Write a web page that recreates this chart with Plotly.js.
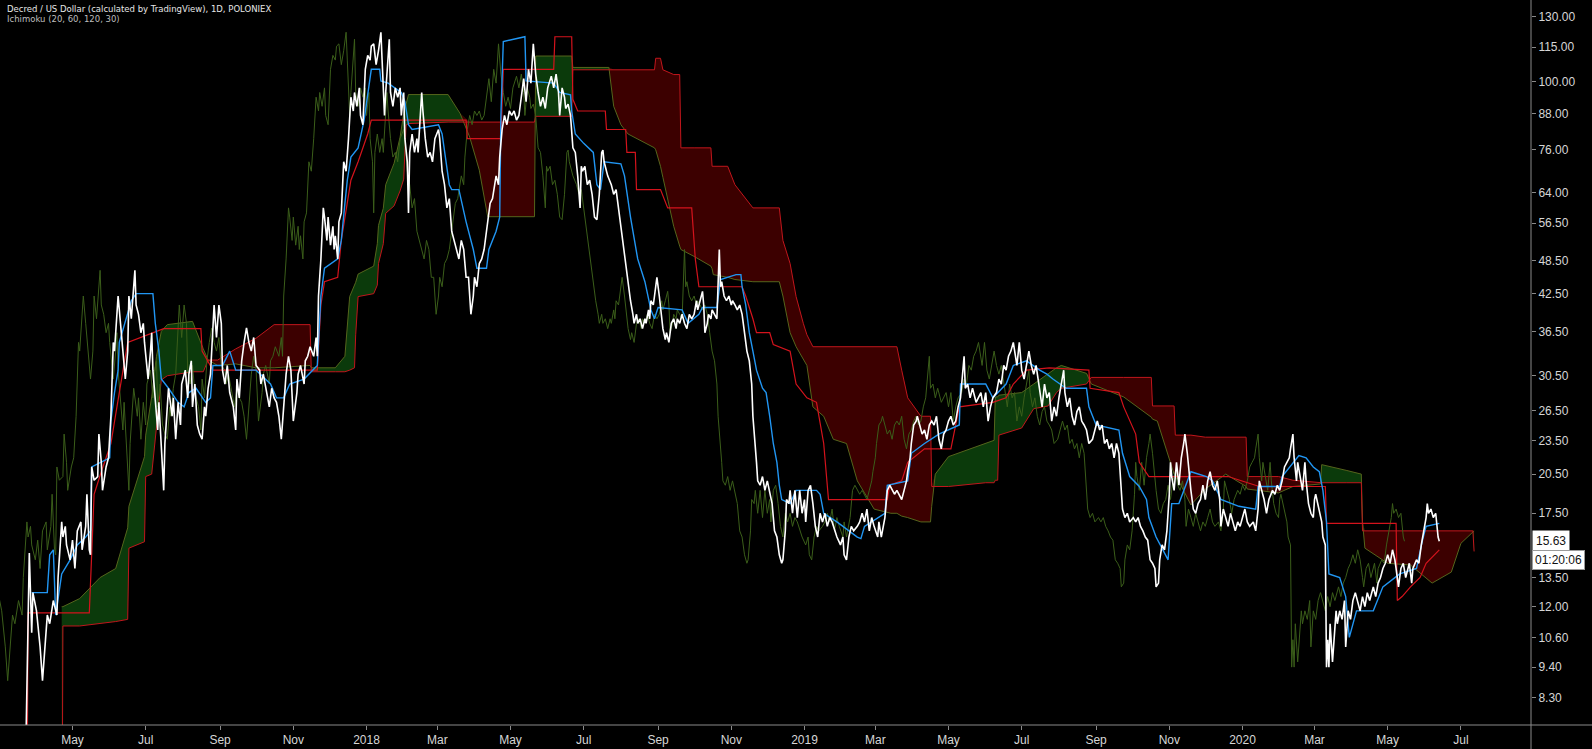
<!DOCTYPE html>
<html><head><meta charset="utf-8">
<script src="https://cdn.plot.ly/plotly-3.0.1.min.js"></script>
<style>html,body{margin:0;padding:0;background:#000;}#chart{width:1592px;height:749px;}</style>
</head><body><div id="chart"></div>
<script>
const titleText = 'Decred / US Dollar (calculated by TradingView), 1D, POLONIEX';
const indicatorText = 'Ichimoku (20, 60, 120, 30)';
const lastPriceText = '15.63';
const countdownText = '01:20:06';
const priceTicks = [8.3, 9.4, 10.6, 12, 13.5, 17.5, 20.5, 23.5, 26.5, 30.5, 36.5, 42.5, 48.5, 56.5, 64, 76, 88, 100, 115, 130];
const monthTickDates = ['2017-05-01','2017-07-01','2017-09-01','2017-11-01','2018-01-01','2018-03-01','2018-05-01','2018-07-01','2018-09-01','2018-11-01','2019-01-01','2019-03-01','2019-05-01','2019-07-01','2019-09-01','2019-11-01','2020-01-01','2020-03-01','2020-05-01','2020-07-01'];
const monthTickLabels = ['May','Jul','Sep','Nov','2018','Mar','May','Jul','Sep','Nov','2019','Mar','May','Jul','Sep','Nov','2020','Mar','May','Jul'];
const laggingShiftDays = 29;

// Daily close (white line)
const close = [
['2017-03-22',5.0],['2017-03-26',14.9],['2017-03-28',10.8],['2017-03-29',12.7],['2017-04-01',11.8],['2017-04-04',10.2],['2017-04-06',8.9],['2017-04-10',11.6],['2017-04-12',11.2],['2017-04-15',12.3],['2017-04-18',11.6],['2017-04-19',13.5],['2017-04-22',16.9],['2017-04-23',15.9],['2017-04-25',16.6],['2017-04-26',15.4],['2017-04-29',14.5],['2017-05-01',15.7],['2017-05-03',14.0],['2017-05-05',16.3],['2017-05-08',16.9],['2017-05-09',15.1],['2017-05-12',16.6],['2017-05-13',18.9],['2017-05-15',15.1],['2017-05-16',14.8],['2017-05-17',21.1],['2017-05-19',20.0],['2017-05-22',20.3],['2017-05-23',24.1],['2017-05-25',21.5],['2017-05-26',19.2],['2017-05-29',21.1],['2017-05-31',21.9],
['2017-06-02',25.9],['2017-06-04',34.9],['2017-06-05',33.7],['2017-06-06',36.3],['2017-06-08',42.1],['2017-06-10',37.7],['2017-06-12',33.0],['2017-06-14',30.1],['2017-06-16',33.7],['2017-06-17',42.1],['2017-06-19',38.4],['2017-06-20',41.3],['2017-06-22',46.7],['2017-06-23',40.6],['2017-06-25',39.1],['2017-06-27',36.3],['2017-06-29',37.7],['2017-06-30',34.9],
['2017-07-03',30.1],['2017-07-05',33.7],['2017-07-06',36.3],['2017-07-07',31.2],['2017-07-09',27.9],['2017-07-11',24.5],['2017-07-12',27.4],['2017-07-14',23.2],['2017-07-16',19.2],['2017-07-17',23.2],['2017-07-19',26.9],['2017-07-20',29.0],['2017-07-23',25.9],['2017-07-24',27.9],['2017-07-26',23.6],['2017-07-28',27.4],['2017-07-30',25.0],['2017-07-31',29.5],
['2017-08-03',31.2],['2017-08-05',27.9],['2017-08-06',30.7],['2017-08-08',32.4],['2017-08-09',26.9],['2017-08-11',29.5],['2017-08-13',25.0],['2017-08-15',24.1],['2017-08-17',23.6],['2017-08-19',26.9],['2017-08-20',25.9],['2017-08-22',29.0],['2017-08-24',30.7],['2017-08-26',37.7],['2017-08-27',40.6],['2017-08-29',35.6],['2017-08-31',40.6],
['2017-09-02',37.7],['2017-09-03',31.2],['2017-09-05',29.5],['2017-09-07',31.8],['2017-09-09',28.5],['2017-09-12',26.9],['2017-09-14',24.5],['2017-09-15',30.1],['2017-09-17',27.9],['2017-09-19',32.4],['2017-09-21',34.9],['2017-09-23',37.0],['2017-09-25',34.9],['2017-09-27',33.7],['2017-09-29',35.6],
['2017-10-01',31.8],['2017-10-04',31.2],['2017-10-05',29.5],['2017-10-07',30.7],['2017-10-10',28.5],['2017-10-12',26.9],['2017-10-14',29.0],['2017-10-16',27.9],['2017-10-18',27.4],['2017-10-20',25.9],['2017-10-22',23.6],['2017-10-24',26.9],['2017-10-26',30.7],['2017-10-28',33.0],['2017-10-30',31.2],
['2017-11-01',25.4],['2017-11-04',28.5],['2017-11-05',30.7],['2017-11-07',31.8],['2017-11-10',29.5],['2017-11-11',32.4],['2017-11-13',33.0],['2017-11-15',34.3],['2017-11-18',33.0],['2017-11-20',35.6],['2017-11-21',33.0],['2017-11-22',42.1],['2017-11-24',48.9],['2017-11-26',60.1],['2017-11-27',57.9],['2017-11-29',52.7],['2017-11-30',57.9],
['2017-12-02',51.7],['2017-12-04',55.8],['2017-12-05',50.8],['2017-12-06',53.7],['2017-12-08',48.9],['2017-12-09',56.8],['2017-12-11',58.9],['2017-12-13',72.4],['2017-12-15',69.7],['2017-12-17',79.5],['2017-12-19',94.0],['2017-12-21',88.9],['2017-12-22',95.8],['2017-12-24',90.6],['2017-12-26',97.6],['2017-12-27',87.3],['2017-12-29',84.1],['2017-12-31',105.2],
['2018-01-02',111.3],['2018-01-04',109.2],['2018-01-05',115.5],['2018-01-07',116.6],['2018-01-09',107.2],['2018-01-11',113.4],['2018-01-13',122.2],['2018-01-14',109.2],['2018-01-16',87.3],['2018-01-17',95.8],['2018-01-19',111.3],['2018-01-20',118.8],['2018-01-21',95.8],['2018-01-23',90.6],['2018-01-25',97.6],['2018-01-27',94.0],['2018-01-29',97.6],['2018-01-30',87.3],
['2018-02-01',95.8],['2018-02-02',79.5],['2018-02-04',72.4],['2018-02-05',58.9],['2018-02-06',75.2],['2018-02-08',81.0],['2018-02-10',75.2],['2018-02-12',79.5],['2018-02-13',75.2],['2018-02-16',95.8],['2018-02-17',88.9],['2018-02-19',79.5],['2018-02-21',73.8],['2018-02-23',75.2],['2018-02-25',72.4],['2018-02-27',79.5],
['2018-03-02',82.5],['2018-03-03',79.5],['2018-03-05',69.7],['2018-03-07',66.0],['2018-03-09',60.1],['2018-03-11',62.4],['2018-03-13',54.7],['2018-03-15',52.7],['2018-03-17',50.8],['2018-03-19',48.9],['2018-03-21',52.7],['2018-03-23',50.8],['2018-03-25',45.4],['2018-03-27',45.4],['2018-03-29',39.1],['2018-03-31',42.1],
['2018-04-01',45.4],['2018-04-03',43.7],['2018-04-05',48.0],['2018-04-07',48.9],['2018-04-09',50.8],['2018-04-11',54.7],['2018-04-13',58.9],['2018-04-14',61.2],['2018-04-16',62.4],['2018-04-19',68.4],['2018-04-21',66.0],['2018-04-22',73.8],['2018-04-24',82.5],['2018-04-26',87.3],['2018-04-28',84.1],['2018-04-30',88.9],
['2018-05-02',87.3],['2018-05-04',88.9],['2018-05-06',85.7],['2018-05-08',87.3],['2018-05-12',101.3],['2018-05-14',92.3],['2018-05-16',105.2],['2018-05-18',99.5],['2018-05-20',116.6],['2018-05-22',103.2],['2018-05-24',95.8],['2018-05-26',90.6],['2018-05-28',94.0],['2018-05-30',89.8],
['2018-06-01',97.6],['2018-06-03',100.4],['2018-06-04',102.3],['2018-06-06',97.6],['2018-06-08',103.2],['2018-06-10',95.8],['2018-06-11',87.3],['2018-06-13',97.6],['2018-06-15',94.0],['2018-06-16',89.8],['2018-06-18',91.4],['2018-06-20',87.3],['2018-06-22',76.6],['2018-06-24',75.2],['2018-06-26',68.4],['2018-06-28',60.1],['2018-06-29',71.1],['2018-06-30',69.7],
['2018-07-02',71.1],['2018-07-04',66.0],['2018-07-06',67.2],['2018-07-08',63.5],['2018-07-10',57.9],['2018-07-12',57.3],['2018-07-14',63.5],['2018-07-16',75.2],['2018-07-17',75.9],['2018-07-18',72.4],['2018-07-19',71.1],['2018-07-21',68.4],['2018-07-24',66.0],['2018-07-26',63.5],['2018-07-28',64.7],['2018-07-30',60.1],['2018-07-31',57.9],
['2018-08-02',52.7],['2018-08-04',48.9],['2018-08-05',48.0],['2018-08-07',44.6],['2018-08-09',41.3],['2018-08-11',39.1],['2018-08-12',37.7],['2018-08-14',39.1],['2018-08-15',37.7],['2018-08-17',38.4],['2018-08-19',36.9],['2018-08-21',38.4],['2018-08-22',37.7],['2018-08-24',39.8],['2018-08-25',38.4],['2018-08-26',41.3],['2018-08-28',40.6],['2018-08-29',42.1],['2018-08-31',45.4],
['2018-09-02',42.1],['2018-09-04',37.7],['2018-09-05',36.9],['2018-09-07',35.3],['2018-09-08',36.3],['2018-09-10',34.9],['2018-09-12',37.7],['2018-09-14',38.4],['2018-09-16',36.9],['2018-09-17',38.4],['2018-09-19',37.7],['2018-09-21',39.1],['2018-09-23',37.7],['2018-09-25',36.9],['2018-09-27',39.1],['2018-09-29',38.4],
['2018-10-01',39.1],['2018-10-03',41.3],['2018-10-04',39.8],['2018-10-06',41.3],['2018-10-08',42.9],['2018-10-09',40.6],['2018-10-10',36.3],['2018-10-12',37.7],['2018-10-13',39.1],['2018-10-15',38.4],['2018-10-16',39.8],['2018-10-18',39.1],['2018-10-20',38.4],['2018-10-22',50.8],['2018-10-23',43.7],['2018-10-24',44.6],['2018-10-26',42.1],['2018-10-28',41.3],['2018-10-30',42.1],
['2018-11-01',40.6],['2018-11-02',41.3],['2018-11-04',40.6],['2018-11-06',39.8],['2018-11-08',40.6],['2018-11-10',39.1],['2018-11-12',36.3],['2018-11-14',33.7],['2018-11-16',32.4],['2018-11-18',29.5],['2018-11-19',25.9],['2018-11-20',24.5],['2018-11-22',21.5],['2018-11-23',19.95],['2018-11-25',19.6],['2018-11-27',20.3],['2018-11-29',19.2],
['2018-12-01',19.95],['2018-12-03',18.9],['2018-12-05',18.2],['2018-12-07',16.3],['2018-12-09',15.9],['2018-12-11',14.8],['2018-12-13',14.3],['2018-12-14',14.5],['2018-12-16',16.3],['2018-12-17',18.5],['2018-12-19',18.2],['2018-12-20',19.2],['2018-12-22',17.5],['2018-12-24',19.2],['2018-12-26',17.2],['2018-12-28',19.2],['2018-12-30',17.5],
['2019-01-01',18.5],['2019-01-02',16.9],['2019-01-04',19.2],['2019-01-06',19.6],['2019-01-08',18.2],['2019-01-10',16.6],['2019-01-12',15.9],['2019-01-14',17.5],['2019-01-16',16.9],['2019-01-18',17.5],['2019-01-20',16.6],['2019-01-22',17.2],['2019-01-24',16.9],['2019-01-26',16.3],['2019-01-28',15.9],['2019-01-31',15.4],
['2019-02-02',15.9],['2019-02-03',14.8],['2019-02-05',14.5],['2019-02-07',15.9],['2019-02-09',16.6],['2019-02-11',16.3],['2019-02-14',16.6],['2019-02-16',16.9],['2019-02-18',17.5],['2019-02-20',16.9],['2019-02-22',17.8],['2019-02-24',16.3],['2019-02-26',17.2],['2019-02-28',16.6],
['2019-03-03',15.9],['2019-03-04',16.9],['2019-03-06',15.9],['2019-03-09',17.2],['2019-03-11',19.2],['2019-03-13',19.6],['2019-03-15',19.2],['2019-03-17',18.9],['2019-03-19',19.2],['2019-03-21',18.9],['2019-03-23',18.5],['2019-03-25',19.2],['2019-03-27',19.95],['2019-03-28',20.7],['2019-03-30',21.9],['2019-03-31',23.2],
['2019-04-02',25.0],['2019-04-04',25.4],['2019-04-05',25.9],['2019-04-07',25.0],['2019-04-09',24.1],['2019-04-11',24.5],['2019-04-13',23.6],['2019-04-15',25.0],['2019-04-17',25.4],['2019-04-19',25.0],['2019-04-21',25.9],['2019-04-23',23.6],['2019-04-25',22.7],['2019-04-27',24.1],['2019-04-29',24.5],
['2019-05-01',25.4],['2019-05-03',25.9],['2019-05-05',25.0],['2019-05-07',25.4],['2019-05-09',26.9],['2019-05-11',27.9],['2019-05-12',29.5],['2019-05-14',33.0],['2019-05-15',29.0],['2019-05-17',29.5],['2019-05-19',27.9],['2019-05-21',29.0],['2019-05-24',27.4],['2019-05-26',27.9],['2019-05-28',28.5],['2019-05-30',26.9],
['2019-06-01',28.5],['2019-06-03',25.4],['2019-06-05',26.9],['2019-06-07',27.9],['2019-06-10',28.5],['2019-06-12',30.1],['2019-06-14',29.5],['2019-06-16',31.8],['2019-06-18',31.2],['2019-06-20',33.0],['2019-06-22',33.7],['2019-06-24',34.9],['2019-06-27',31.8],['2019-06-29',34.9],
['2019-07-01',31.2],['2019-07-03',30.1],['2019-07-05',31.8],['2019-07-07',33.7],['2019-07-09',31.8],['2019-07-11',30.7],['2019-07-13',31.8],['2019-07-16',28.5],['2019-07-18',26.9],['2019-07-20',29.5],['2019-07-22',27.9],['2019-07-24',28.5],['2019-07-26',25.4],['2019-07-28',26.9],['2019-07-30',25.9],
['2019-08-01',27.9],['2019-08-04',30.1],['2019-08-05',31.2],['2019-08-06',28.5],['2019-08-08',26.9],['2019-08-10',27.9],['2019-08-12',25.9],['2019-08-14',25.0],['2019-08-16',26.4],['2019-08-18',26.9],['2019-08-20',25.4],['2019-08-22',25.0],['2019-08-24',24.5],['2019-08-26',23.2],['2019-08-29',23.6],['2019-08-31',24.5],
['2019-09-02',25.4],['2019-09-04',24.5],['2019-09-06',25.0],['2019-09-08',23.2],['2019-09-10',23.6],['2019-09-12',22.7],['2019-09-14',23.2],['2019-09-16',21.9],['2019-09-18',23.2],['2019-09-20',22.3],['2019-09-22',19.5],['2019-09-23',17.8],['2019-09-25',17.2],['2019-09-27',17.5],['2019-09-29',16.9],
['2019-10-02',17.2],['2019-10-04',16.9],['2019-10-06',17.2],['2019-10-08',16.6],['2019-10-10',16.3],['2019-10-12',15.9],['2019-10-14',15.7],['2019-10-16',14.5],['2019-10-18',14.3],['2019-10-20',14.0],['2019-10-21',13.0],['2019-10-23',13.2],['2019-10-24',14.5],['2019-10-26',15.4],['2019-10-28',15.1],['2019-10-30',16.3],
['2019-11-01',18.9],['2019-11-02',21.5],['2019-11-03',20.3],['2019-11-05',19.2],['2019-11-07',21.5],['2019-11-09',19.6],['2019-11-11',21.9],['2019-11-13',23.2],['2019-11-14',24.1],['2019-11-16',22.3],['2019-11-18',19.95],['2019-11-19',19.2],['2019-11-21',17.8],['2019-11-23',17.5],['2019-11-25',18.2],['2019-11-27',18.5],['2019-11-29',19.6],
['2019-12-01',18.5],['2019-12-03',19.95],['2019-12-05',20.7],['2019-12-07',19.6],['2019-12-09',19.2],['2019-12-11',19.95],['2019-12-13',18.5],['2019-12-14',16.6],['2019-12-16',17.8],['2019-12-18',17.2],['2019-12-20',16.6],['2019-12-22',17.5],['2019-12-24',16.9],['2019-12-26',16.3],['2019-12-28',16.9],['2019-12-30',16.6],
['2020-01-01',17.2],['2020-01-03',17.8],['2020-01-05',16.9],['2020-01-07',16.6],['2020-01-10',16.9],['2020-01-12',16.3],['2020-01-14',17.8],['2020-01-15',19.95],['2020-01-17',19.2],['2020-01-19',18.5],['2020-01-21',17.5],['2020-01-23',18.5],['2020-01-26',19.2],['2020-01-28',18.9],['2020-01-30',19.6],
['2020-02-01',19.2],['2020-02-03',19.95],['2020-02-05',21.1],['2020-02-07',21.5],['2020-02-09',21.9],['2020-02-10',22.7],['2020-02-12',24.1],['2020-02-13',21.9],['2020-02-15',19.95],['2020-02-16',21.5],['2020-02-18',20.3],['2020-02-20',19.2],['2020-02-22',21.5],['2020-02-23',19.95],['2020-02-25',18.2],['2020-02-27',17.5],['2020-02-29',17.2],
['2020-03-01',18.5],['2020-03-02',18.9],['2020-03-05',17.8],['2020-03-07',16.9],['2020-03-08',15.9],['2020-03-10',15.4],['2020-03-11',9.4],['2020-03-12',10.5],['2020-03-13',9.4],['2020-03-14',11.2],['2020-03-16',9.6],['2020-03-18',10.8],['2020-03-19',11.8],['2020-03-20',11.2],['2020-03-22',11.8],['2020-03-24',11.4],['2020-03-26',12.3],['2020-03-27',10.2],['2020-03-29',11.8],['2020-03-31',11.4],
['2020-04-02',12.3],['2020-04-04',12.7],['2020-04-06',12.3],['2020-04-08',11.8],['2020-04-10',12.5],['2020-04-12',12.0],['2020-04-14',12.7],['2020-04-16',12.3],['2020-04-19',13.0],['2020-04-21',12.5],['2020-04-23',13.2],['2020-04-25',13.5],['2020-04-27',14.0],['2020-04-29',14.3],
['2020-05-01',14.8],['2020-05-03',14.3],['2020-05-05',15.1],['2020-05-07',14.5],['2020-05-09',13.5],['2020-05-10',13.0],['2020-05-12',14.0],['2020-05-14',14.3],['2020-05-16',13.5],['2020-05-19',14.3],['2020-05-21',13.2],['2020-05-22',14.0],['2020-05-25',14.5],['2020-05-27',14.3],['2020-05-29',15.4],['2020-05-31',16.3],
['2020-06-02',17.2],['2020-06-03',18.2],['2020-06-04',17.5],['2020-06-06',17.8],['2020-06-08',17.2],['2020-06-10',17.5],['2020-06-12',15.9],['2020-06-13',15.63]
];

// Conversion line (20) - blue
const tenkan = [
['2017-03-28',12.7],['2017-04-10',12.7],['2017-04-12',14.8],['2017-04-15',15.1],['2017-04-17',11.6],['2017-04-19',12.5],['2017-04-22',13.7],['2017-04-29',14.5],['2017-05-05',15.4],['2017-05-12',15.9],['2017-05-16',16.3],['2017-05-17',21.1],['2017-06-01',21.9],['2017-06-02',25.4],['2017-06-05',28.5],['2017-06-08',31.2],['2017-06-09',34.9],['2017-06-19',41.3],['2017-06-23',42.5],['2017-07-07',42.5],['2017-07-09',37.7],['2017-07-12',33.7],['2017-07-14',30.1],['2017-07-20',29.0],['2017-07-28',27.4],['2017-08-02',26.9],['2017-08-06',28.5],['2017-08-12',29.0],['2017-08-20',27.4],['2017-08-24',27.9],['2017-08-26',31.8],['2017-09-03',31.8],['2017-09-09',33.7],['2017-09-14',31.2],['2017-10-01',31.2],['2017-10-13',29.5],['2017-10-18',27.9],['2017-10-24',27.9],['2017-10-29',29.5],['2017-11-10',30.1],['2017-11-21',31.8],['2017-11-24',42.1],['2017-11-27',47.1],['2017-12-08',48.9],['2017-12-11',52.7],['2017-12-14',61.2],['2017-12-16',67.2],['2017-12-19',73.8],['2017-12-25',76.6],['2017-12-30',85.7],
['2018-01-05',105.2],['2018-01-12',105.2],['2018-01-13',100.4],['2018-01-19',99.5],['2018-01-30',95.8],['2018-02-02',92.3],['2018-02-05',84.1],['2018-02-08',82.5],['2018-03-02',84.1],['2018-03-05',81.0],['2018-03-08',72.4],['2018-03-11',66.0],['2018-03-13',64.7],['2018-03-19',64.7],['2018-03-25',56.8],['2018-03-31',50.8],['2018-04-03',47.1],['2018-04-11',47.1],['2018-04-13',50.8],['2018-04-19',54.7],['2018-04-22',57.9],['2018-04-23',87.3],['2018-04-25',117.7],['2018-05-13',120.0],['2018-05-14',100.4],['2018-06-06',99.5],['2018-06-11',95.8],['2018-06-20',94.9],['2018-06-21',88.9],['2018-06-24',81.0],['2018-07-01',78.0],['2018-07-09',75.2],['2018-07-12',66.0],['2018-07-15',64.7],['2018-07-18',72.4],['2018-08-01',71.8],['2018-08-04',68.4],['2018-08-09',57.9],['2018-08-15',48.9],['2018-08-21',44.6],['2018-08-26',39.8],['2018-08-29',38.4],['2018-09-01',40.2],['2018-09-21',39.8],['2018-09-26',37.7],['2018-10-05',39.1],['2018-10-08',40.2],['2018-10-20',40.2],['2018-10-23',45.0],['2018-11-05',45.9],['2018-11-09',45.9],['2018-11-10',43.7],['2018-11-13',40.6],['2018-11-16',36.3],['2018-11-19',33.7],['2018-11-22',31.2],['2018-11-27',29.0],['2018-11-30',28.5],['2018-12-03',25.9],['2018-12-06',23.2],['2018-12-09',21.5],['2018-12-11',19.6],['2018-12-13',18.5],['2018-12-20',18.2],['2018-12-25',19.2],
['2019-01-11',19.2],['2019-01-14',18.9],['2019-01-17',17.5],['2019-01-28',16.9],['2019-02-14',15.9],['2019-02-17',15.8],['2019-02-20',16.6],['2019-03-09',17.5],['2019-03-11',19.6],['2019-03-28',19.95],['2019-03-31',22.3],['2019-04-11',23.2],['2019-04-23',24.1],['2019-05-10',25.0],['2019-05-11',29.5],['2019-06-01',29.5],['2019-06-07',27.9],['2019-06-18',29.5],['2019-06-24',31.8],['2019-07-05',32.4],['2019-07-16',31.2],['2019-07-22',30.7],['2019-07-27',30.1],['2019-08-07',29.0],['2019-08-24',29.0],['2019-08-26',26.9],['2019-09-01',25.0],['2019-09-20',24.5],['2019-09-23',22.3],['2019-09-29',20.3],['2019-10-07',19.5],['2019-10-13',18.5],['2019-10-15',17.2],['2019-10-21',15.9],['2019-10-31',14.5],['2019-11-03',18.2],['2019-11-09',18.2],['2019-11-19',20.7],['2019-12-02',20.3],['2019-12-07',19.95],['2019-12-14',18.5],['2019-12-29',18.0],
['2020-01-12',17.8],['2020-01-14',19.5],['2020-02-01',19.5],['2020-02-03',20.3],['2020-02-12',21.5],['2020-02-17',22.1],['2020-02-23',21.9],['2020-02-29',21.1],['2020-03-05',20.7],['2020-03-08',19.2],['2020-03-11',16.9],['2020-03-13',13.7],['2020-03-22',13.5],['2020-03-27',12.5],['2020-03-30',10.6],['2020-04-05',11.8],['2020-04-19',11.8],['2020-04-27',13.0],['2020-05-11',13.7],['2020-05-25',14.0],['2020-05-30',15.7],['2020-06-02',16.6],['2020-06-13',16.8]
];

// Base line (60) - red
const kijun = [
['2017-03-24',5.0],['2017-03-25',11.7],['2017-05-15',11.7],['2017-05-17',14.5],['2017-05-19',18.9],['2017-05-25',20.7],['2017-06-02',23.2],['2017-06-09',28.5],['2017-06-16',34.9],['2017-07-16',36.9],['2017-08-16',36.9],['2017-08-17',33.7],['2017-08-26',31.2],['2017-11-21',31.2],['2017-11-24',40.6],['2017-11-27',44.6],['2017-12-08',45.4],['2017-12-11',52.7],['2017-12-19',67.2],['2017-12-25',72.4],
['2018-01-02',81.0],['2018-01-05',85.7],['2018-03-25',85.7],['2018-03-26',79.5],['2018-04-23',79.5],['2018-04-25',105.2],['2018-06-06',105.2],['2018-06-07',120.0],['2018-06-21',120.0],['2018-06-22',93.2],['2018-06-26',88.9],['2018-07-19',88.9],['2018-07-20',82.5],['2018-08-05',82.5],['2018-08-06',75.2],['2018-08-13',75.2],['2018-08-14',64.7],['2018-09-03',64.7],['2018-09-09',60.1],['2018-09-29',60.1],['2018-10-02',48.9],['2018-10-05',43.7],['2018-11-10',43.7],['2018-11-13',42.1],['2018-11-19',38.4],['2018-11-22',36.3],['2018-12-03',36.3],['2018-12-06',34.6],['2018-12-20',33.7],['2018-12-25',29.5],
['2019-01-03',27.9],['2019-01-11',27.4],['2019-01-17',23.2],['2019-01-21',18.5],['2019-03-11',18.5],['2019-03-13',19.6],['2019-03-23',19.95],['2019-03-28',21.5],['2019-04-11',22.7],['2019-05-03',22.7],['2019-05-10',26.9],['2019-06-07',27.4],['2019-06-18',27.9],['2019-06-24',29.5],['2019-07-05',31.2],['2019-07-24',31.5],['2019-08-26',31.2],['2019-08-27',29.0],['2019-09-20',28.5],['2019-09-24',26.9],['2019-10-04',24.1],['2019-10-07',21.5],['2019-10-15',20.3],['2019-12-20',20.3],
['2020-01-15',19.5],['2020-03-10',19.5],['2020-03-11',16.8],['2020-05-08',16.8],['2020-05-09',12.3],['2020-05-13',12.5],['2020-05-20',13.0],['2020-05-28',13.5],['2020-06-02',14.3],['2020-06-13',15.1]
];

// Leading spans (plotted 29 days ahead): [date, span A, span B]
const cloud = [
['2017-04-22',12.0,3.0],['2017-04-23',12.0,11.1],['2017-05-07',12.4,11.1],['2017-05-24',13.5,11.2],['2017-06-06',14.0,11.3],['2017-06-16',16.5,11.4],['2017-06-17',18.0,15.2],['2017-06-30',22.0,15.6],['2017-07-01',24.0,20.3],['2017-07-06',28.0,20.5],['2017-07-10',33.0,25.0],['2017-07-14',36.5,30.0],['2017-07-19',37.5,30.5],['2017-08-09',38.0,31.0],['2017-08-18',34.0,31.0],['2017-08-22',32.5,32.5],['2017-08-30',31.8,32.5],['2017-09-14',32.0,34.0],['2017-10-01',31.5,35.5],['2017-10-16',31.5,37.5],['2017-11-15',31.8,37.5],['2017-11-16',31.5,31.0],['2017-12-06',31.5,31.0],['2017-12-14',33.0,31.0],['2017-12-18',42.0,31.2],['2017-12-22',44.0,31.5],['2017-12-23',44.5,36.0],['2017-12-25',46.0,42.0],
['2018-01-07',47.5,42.5],['2018-01-10',52.0,44.0],['2018-01-11',56.0,48.0],['2018-01-15',60.0,52.0],['2018-01-17',66.0,58.8],['2018-01-24',72.0,60.6],['2018-01-29',80.0,64.4],['2018-02-01',88.0,67.5],['2018-02-03',92.0,84.0],['2018-02-05',95.0,84.5],['2018-03-10',95.0,85.0],['2018-03-20',88.0,85.0],['2018-03-28',80.0,85.0],['2018-04-05',70.0,85.0],['2018-04-12',58.0,85.0],['2018-05-21',58.0,85.0],['2018-05-22',111.0,87.0],['2018-06-21',111.0,87.0],['2018-06-22',106.0,105.0],['2018-07-22',106.0,105.0],['2018-07-26',90.6,105.0],['2018-08-01',84.1,105.0],['2018-08-07',81.0,105.0],['2018-08-14',79.5,105.0],['2018-08-29',76.6,105.0],['2018-08-30',76.0,110.0],['2018-09-03',71.1,110.0],['2018-09-05',68.0,105.0],['2018-09-09',62.4,104.0],['2018-09-14',55.8,103.0],['2018-09-19',51.5,103.0],['2018-09-20',50.8,76.6],['2018-10-01',49.4,76.6],['2018-10-12',48.0,76.6],['2018-10-15',47.5,76.6],['2018-10-16',47.0,71.1],['2018-10-17',45.9,71.1],['2018-10-29',45.4,71.1],['2018-11-04',45.0,66.0],['2018-11-19',44.6,60.1],['2018-12-11',44.6,60.1],['2018-12-14',42.1,52.7],['2018-12-20',36.3,48.0],['2018-12-25',34.3,42.0],['2018-12-31',32.5,37.7],
['2019-01-03',31.8,36.0],['2019-01-08',26.9,34.3],['2019-01-17',25.9,34.3],['2019-01-25',23.6,34.3],['2019-02-05',23.2,34.3],['2019-02-14',19.95,34.3],['2019-02-28',17.8,34.3],['2019-03-14',17.5,34.3],['2019-03-19',17.5,34.3],['2019-03-23',17.3,31.2],['2019-03-28',17.2,27.9],['2019-04-08',16.9,25.9],['2019-04-16',16.9,25.9],['2019-04-17',18.0,19.5],['2019-04-20',20.5,19.5],['2019-05-01',22.0,19.5],['2019-06-01',23.2,19.8],['2019-06-08',23.5,19.8],['2019-06-09',28.0,20.0],['2019-06-11',28.0,20.0],['2019-06-12',28.2,24.0],['2019-07-01',28.5,24.7],['2019-07-11',29.5,26.7],['2019-07-23',30.7,27.0],['2019-07-30',31.5,28.5],['2019-08-03',31.8,29.0],['2019-08-24',30.8,29.5],['2019-08-28',29.5,30.3],['2019-09-24',28.0,30.3],['2019-10-17',25.8,30.3],['2019-10-18',25.6,27.0],['2019-10-22',25.4,27.0],['2019-11-05',20.5,27.0],['2019-11-06',20.5,24.0],['2019-11-19',18.1,24.0],['2019-12-01',19.3,23.8],['2019-12-18',20.5,23.8],
['2020-01-04',19.5,23.8],['2020-01-05',19.3,20.3],['2020-01-31',19.0,20.3],['2020-02-12',19.5,20.0],['2020-03-06',19.7,19.8],['2020-03-07',21.3,19.8],['2020-03-28',20.8,19.8],['2020-04-09',20.5,19.8],['2020-04-10',16.9,16.3],['2020-04-12',15.2,16.3],['2020-05-01',14.3,16.3],['2020-05-20',14.2,16.3],['2020-06-07',13.2,16.3],['2020-06-23',13.8,16.3],['2020-07-01',15.5,16.3],['2020-07-11',16.2,16.3],['2020-07-12',16.3,15.0]
];

// ---------- build traces ----------
const xs = a => a.map(p => p[0]);
const ys = (a, i) => a.map(p => p[i]);
function shiftDate(s, days) {
  const t = new Date(s + 'T00:00:00Z').getTime() + days * 86400000;
  return new Date(t).toISOString().slice(0, 10);
}
const cloudX = xs(cloud);
const spanA = ys(cloud, 1);
const spanB = ys(cloud, 2);
const cloudTop = spanA.map((a, i) => Math.max(a, spanB[i]));
const none = {width: 0, color: 'rgba(0,0,0,0)'};

const traces = [
  {x: cloudX, y: spanB, mode: 'lines', line: none},
  {x: cloudX, y: cloudTop, mode: 'lines', line: none, fill: 'tonexty', fillcolor: '#0b3a0b'},
  {x: cloudX, y: spanA, mode: 'lines', line: none},
  {x: cloudX, y: cloudTop, mode: 'lines', line: none, fill: 'tonexty', fillcolor: '#3c0000'},
  {x: cloudX, y: spanA, mode: 'lines', line: {color: '#55651c', width: 1}},
  {x: cloudX, y: spanB, mode: 'lines', line: {color: '#c0161c', width: 1}},
  {x: close.map(p => shiftDate(p[0], -laggingShiftDays)), y: ys(close, 1), mode: 'lines', line: {color: '#3b5e1a', width: 1}},
  {x: xs(kijun), y: ys(kijun, 1), mode: 'lines', line: {color: '#d4131c', width: 1.2}},
  {x: xs(tenkan), y: ys(tenkan, 1), mode: 'lines', line: {color: '#2196f3', width: 1.4}},
  {x: xs(close), y: ys(close, 1), mode: 'lines', line: {color: '#ffffff', width: 1.6}}
];

const axisFont = {family: 'Liberation Sans, Arial, sans-serif', size: 12, color: '#d6d6d6'};
const layout = {
  width: 1592, height: 749,
  margin: {l: 0, r: 61, t: 0, b: 24, pad: 0},
  paper_bgcolor: '#000000', plot_bgcolor: '#000000',
  showlegend: false, hovermode: false,
  font: axisFont,
  xaxis: {
    type: 'date', range: ['2017-03-01 14:00', '2020-08-28 10:00'],
    showgrid: false, zeroline: false, showline: false,
    tickmode: 'array', tickvals: monthTickDates, ticktext: monthTickLabels,
    ticks: 'outside', ticklen: 4, tickcolor: '#8a8a8a', tickfont: axisFont
  },
  yaxis: {
    type: 'log', side: 'right', range: [Math.log10(7.44), Math.log10(139.2)],
    showgrid: false, zeroline: false, showline: false,
    tickmode: 'array', tickvals: priceTicks, ticktext: priceTicks.map(v => v.toFixed(2)),
    ticks: 'outside', ticklen: 4, tickcolor: '#8a8a8a', tickfont: axisFont
  },
  shapes: [
    {type: 'line', xref: 'paper', yref: 'paper', x0: 0, x1: 1.05, y0: 0, y1: 0, line: {color: '#8a8a8a', width: 1}},
    {type: 'line', xref: 'paper', yref: 'paper', x0: 1, x1: 1, y0: -0.05, y1: 1, line: {color: '#8a8a8a', width: 1}}
  ],
  annotations: [
    {xref: 'paper', yref: 'paper', x: 0.003, y: 1, xanchor: 'left', yanchor: 'top', yshift: -2, showarrow: false, align: 'left',
     text: titleText, font: {family: 'DejaVu Sans, sans-serif', size: 8.5, color: '#e6e6e6'}},
    {xref: 'paper', yref: 'paper', x: 0.003, y: 1, xanchor: 'left', yanchor: 'top', yshift: -12, showarrow: false, align: 'left',
     text: indicatorText, font: {family: 'DejaVu Sans, sans-serif', size: 8.5, color: '#bdbdbd'}},
    {xref: 'paper', yref: 'y', x: 1, y: Math.log10(parseFloat(lastPriceText)), xanchor: 'left', yanchor: 'middle', xshift: 1,
     showarrow: false, text: lastPriceText, bgcolor: '#ffffff', borderpad: 3, font: {family: 'Liberation Sans, Arial', size: 12, color: '#111111'}},
    {xref: 'paper', yref: 'y', x: 1, y: Math.log10(parseFloat(lastPriceText)), xanchor: 'left', yanchor: 'middle', xshift: 1, yshift: -19,
     showarrow: false, text: countdownText, bgcolor: '#ffffff', bordercolor: '#9a9a9a', borderwidth: 1, borderpad: 2, font: {family: 'Liberation Sans, Arial', size: 12, color: '#111111'}}
  ]
};
Plotly.newPlot('chart', traces, layout, {staticPlot: true, displayModeBar: false});
</script>
</body></html>
